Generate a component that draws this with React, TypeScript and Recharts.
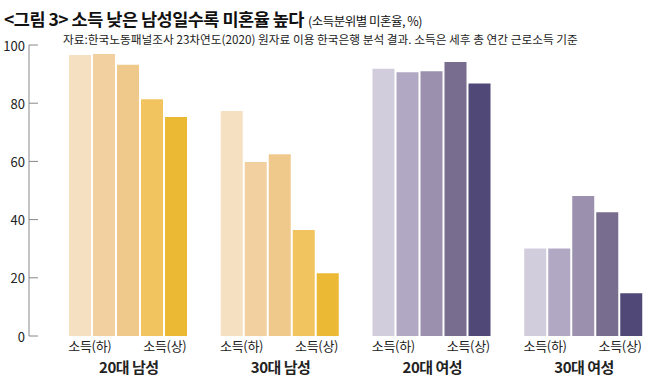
import { Bar, BarChart, Cell, XAxis, YAxis } from 'recharts';

const groups = ['20대 남성', '30대 남성', '20대 여성', '30대 여성'];
const isMale = [true, true, false, false];

// 소득 5분위별 미혼율 (%)
const q1 = [96.6, 77.3, 91.8, 30.1];
const q2 = [96.9, 59.8, 90.6, 30.1];
const q3 = [93.2, 62.5, 91.0, 48.1];
const q4 = [81.4, 36.4, 94.2, 42.5];
const q5 = [75.3, 21.6, 86.8, 14.7];

const yTicks = [0, 20, 40, 60, 80, 100];
const lowLabel = '소득(하)';
const highLabel = '소득(상)';

const menColors = ['#F5E1C2', '#F3D0A0', '#EFC88C', '#F2C45F', '#ECB935'];
const womenColors = ['#D1CDDD', '#B1A9C3', '#9B90AE', '#786D8F', '#504876'];

const seriesKeys = ['q1', 'q2', 'q3', 'q4', 'q5'];

const data = groups.map((g, i) => ({
	group: g,
	q1: q1[i],
	q2: q2[i],
	q3: q3[i],
	q4: q4[i],
	q5: q5[i],
}));

const FONT = '"Noto Sans CJK KR", "Noto Sans", sans-serif';

function YTick({ x, y, payload }: any) {
	return (
		<g>
			<line x1={x} x2={x + 9} y1={y} y2={y} stroke="#888" strokeWidth={1} />
			<text
				x={x - 4}
				y={y}
				textAnchor="end"
				dominantBaseline="central"
				fontSize={13}
				fill="#222"
				fontFamily={FONT}
			>
				{payload.value}
			</text>
		</g>
	);
}

function XTick({ x, y, payload }: any) {
	return (
		<g fontFamily={FONT} fill="#222">
			<text x={x - 39} y={y + 15} textAnchor="middle" fontSize={13} letterSpacing={-0.3}>
				{lowLabel}
			</text>
			<text x={x + 36} y={y + 15} textAnchor="middle" fontSize={13} letterSpacing={-0.3}>
				{highLabel}
			</text>
			<text
				x={x}
				y={y + 37}
				textAnchor="middle"
				fontSize={15}
				fontWeight={700}
				letterSpacing={-0.5}
			>
				{payload.value}
			</text>
		</g>
	);
}

export default function App() {
	return (
		<div
			style={{
				position: 'absolute',
				left: 0,
				top: 0,
				width: 658,
				height: 386,
				overflow: 'hidden',
				background: '#fff',
				fontFamily: FONT,
			}}
		>
			<div
				style={{
					position: 'absolute',
					left: 4,
					top: 6,
					whiteSpace: 'nowrap',
					color: '#111',
				}}
			>
				<span style={{ fontSize: 17.5, fontWeight: 700, letterSpacing: -0.5 }}>
					&lt;그림 3&gt; 소득 낮은 남성일수록 미혼율 높다
				</span>
				<span style={{ fontSize: 12.5, letterSpacing: -0.5, marginLeft: 4 }}>
					(소득분위별 미혼율, %)
				</span>
			</div>
			<div
				style={{
					position: 'absolute',
					left: 63,
					top: 30,
					fontSize: 11.7,
					whiteSpace: 'nowrap',
					color: '#222',
				}}
			>
				자료:한국노동패널조사 23차연도(2020) 원자료 이용 한국은행 분석 결과. 소득은 세후 총 연간 근로소득 기준
			</div>
			<div style={{ position: 'absolute', left: 0, top: 0 }}>
				<BarChart
					width={660}
					height={386}
					data={data}
					margin={{ top: 45, right: 0, bottom: 0, left: 5 }}
					barCategoryGap={16}
					barGap={2}
				>
					<YAxis
						width={24}
						domain={[0, 100]}
						ticks={yTicks}
						interval={0}
						axisLine={{ stroke: '#888' }}
						tickLine={false}
						tickSize={0}
						tickMargin={0}
						tick={<YTick />}
					/>
					<XAxis
						dataKey="group"
						height={50}
						padding={{ left: 24, right: 0 }}
						axisLine={false}
						tickLine={false}
						tickSize={0}
						tickMargin={0}
						interval={0}
						tick={<XTick />}
					/>
					{seriesKeys.map((key, si) => (
						<Bar key={key} dataKey={key} isAnimationActive={false}>
							{groups.map((g, gi) => (
								<Cell
									key={g}
									fill={isMale[gi] ? menColors[si] : womenColors[si]}
								/>
							))}
						</Bar>
					))}
				</BarChart>
			</div>
		</div>
	);
}
